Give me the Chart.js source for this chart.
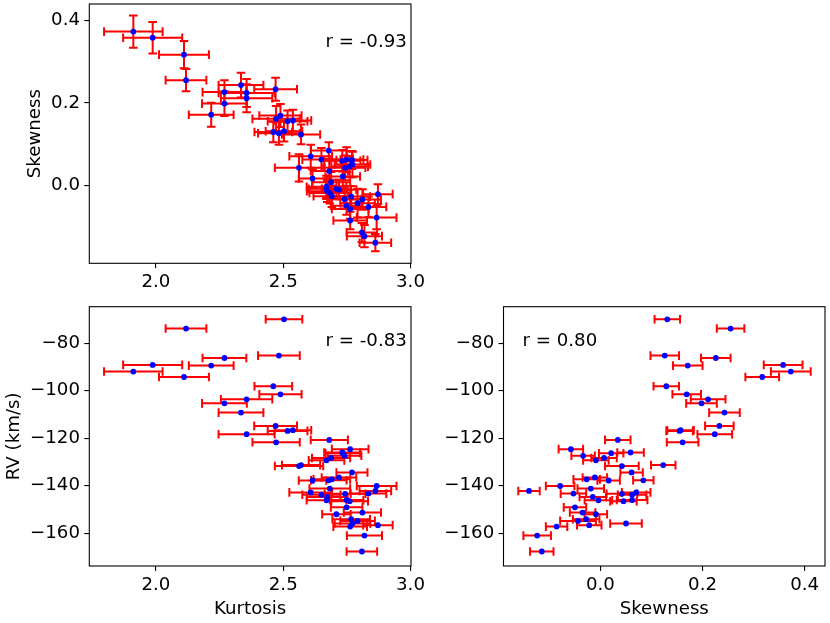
<!DOCTYPE html>
<html>
<head>
<meta charset="utf-8">
<script src="https://cdn.jsdelivr.net/npm/chart.js@4.4.0/dist/chart.umd.min.js"></script>
<style>
  body { margin: 0; background: #fff; }
  #wrap { position: relative; width: 830px; height: 623px; }
  #wrap canvas { position: absolute; left: 0; top: 0; }
</style>
</head>
<body>
<div id="wrap">
  <canvas id="skewKurt" width="830" height="623"></canvas>
  <canvas id="rvKurt" width="830" height="623"></canvas>
  <canvas id="rvSkew" width="830" height="623"></canvas>
</div>
<script>
// one entry per star (same order in every array)
const kurtosis = [2.503, 2.118, 2.483, 2.269, 1.987, 2.217, 1.911, 2.110, 2.461, 2.489,
  2.356, 2.269, 2.334, 2.470, 2.517, 2.538, 2.356, 2.681, 2.472, 2.763,
  2.732, 2.734, 2.741, 2.688, 2.670, 2.570, 2.562, 2.770, 2.719, 2.691,
  2.679, 2.615, 2.867, 2.683, 2.862, 2.608, 2.835, 2.743, 2.650, 2.673,
  2.749, 2.670, 2.761, 2.749, 2.811, 2.709, 2.767, 2.792, 2.772, 2.872,
  2.763, 2.819, 2.809];
const kurtosisErr = [0.072, 0.080, 0.082, 0.086, 0.116, 0.088, 0.115, 0.098, 0.074, 0.083,
  0.101, 0.088, 0.088, 0.084, 0.078, 0.072, 0.110, 0.073, 0.093, 0.072,
  0.071, 0.068, 0.066, 0.075, 0.070, 0.075, 0.095, 0.061, 0.068, 0.072,
  0.070, 0.054, 0.078, 0.080, 0.062, 0.084, 0.070, 0.080, 0.075, 0.080,
  0.066, 0.078, 0.072, 0.062, 0.073, 0.056, 0.074, 0.068, 0.070, 0.058,
  0.066, 0.069, 0.060];
const skewness = [0.131, 0.255, 0.126, 0.226, 0.358, 0.171, 0.373, 0.317, 0.129, 0.169,
  0.211, 0.198, 0.243, 0.233, 0.155, 0.157, 0.224, 0.034, 0.161, -0.058,
  0.059, 0.021, -0.034, 0.007, -0.009, 0.123, 0.042, 0.061, -0.011, -0.027,
  0.084, 0.016, -0.079, -0.019, -0.140, 0.070, -0.053, 0.042, 0.062, -0.015,
  0.062, -0.004, 0.045, -0.050, -0.035, -0.009, -0.028, -0.044, 0.050, -0.022,
  -0.086, -0.124, -0.115];
const skewnessErr = [0.025, 0.027, 0.028, 0.029, 0.038, 0.029, 0.039, 0.033, 0.025, 0.028,
  0.034, 0.030, 0.030, 0.028, 0.026, 0.026, 0.034, 0.025, 0.031, 0.024,
  0.026, 0.024, 0.023, 0.025, 0.025, 0.024, 0.033, 0.022, 0.024, 0.026,
  0.020, 0.022, 0.028, 0.026, 0.021, 0.028, 0.025, 0.030, 0.028, 0.026,
  0.030, 0.027, 0.026, 0.022, 0.025, 0.022, 0.026, 0.035, 0.031, 0.024,
  0.021, 0.027, 0.023];
const rv = [-69.9, -73.8, -85.2, -86.2, -89.1, -89.4, -91.9, -94.2, -98.1, -101.5,
  -103.6, -105.3, -109.2, -114.8, -116.9, -116.6, -118.3, -120.7, -121.7, -124.6,
  -126.0, -126.3, -127.4, -128.3, -129.3, -131.3, -131.7, -134.4, -136.5, -137.3,
  -137.7, -137.8, -140.1, -141.2, -142.2, -142.8, -143.3, -143.4, -143.8, -144.7,
  -146.0, -146.1, -146.5, -149.1, -151.3, -152.0, -154.1, -154.8, -155.9, -156.6,
  -157.2, -161.0, -167.7];

const kurtTicks = [2.0, 2.5, 3.0];
const skewTicks = [0.0, 0.2, 0.4];
const rvTicks = [-160, -140, -120, -100, -80];

const kurtRange = [1.738, 3.002];
const skewRange = [-0.190, 0.440];
const rvRange = [-173.8, -64.6];

const FONT = 'DejaVu Sans';
const FS = 18.2;
const CAP = 4.3;

function fmt(dec) {
  return v => {
    const s = Math.abs(v).toFixed(dec);
    return v < 0 ? '\u2212' + s : s;
  };
}

// red error bars with caps, drawn under the markers
const errorBars = {
  id: 'errorBars',
  beforeDatasetsDraw(chart) {
    const { ctx, chartArea: a, scales: { x, y } } = chart;
    const ds = chart.data.datasets[0];
    ctx.save();
    ctx.beginPath();
    ctx.rect(a.left, a.top, a.right - a.left, a.bottom - a.top);
    ctx.clip();
    ctx.strokeStyle = '#ff0000';
    ctx.lineWidth = 2;
    ds.data.forEach((p, i) => {
      const px = x.getPixelForValue(p.x);
      const py = y.getPixelForValue(p.y);
      ctx.beginPath();
      if (ds.xErr) {
        const l = x.getPixelForValue(p.x - ds.xErr[i]);
        const r = x.getPixelForValue(p.x + ds.xErr[i]);
        ctx.moveTo(l, py); ctx.lineTo(r, py);
        ctx.moveTo(l, py - CAP); ctx.lineTo(l, py + CAP);
        ctx.moveTo(r, py - CAP); ctx.lineTo(r, py + CAP);
      }
      if (ds.yErr) {
        const t = y.getPixelForValue(p.y + ds.yErr[i]);
        const b = y.getPixelForValue(p.y - ds.yErr[i]);
        ctx.moveTo(px, t); ctx.lineTo(px, b);
        ctx.moveTo(px - CAP, t); ctx.lineTo(px + CAP, t);
        ctx.moveTo(px - CAP, b); ctx.lineTo(px + CAP, b);
      }
      ctx.stroke();
    });
    ctx.restore();
  }
};

// axes box + correlation text
const frame = {
  id: 'frame',
  afterDatasetsDraw(chart, args, opts) {
    const { ctx, chartArea: a } = chart;
    ctx.save();
    ctx.strokeStyle = '#000';
    ctx.lineWidth = 1.1;
    ctx.strokeRect(a.left, a.top, a.right - a.left, a.bottom - a.top);
    ctx.font = FS + 'px "' + FONT + '"';
    ctx.fillStyle = '#000';
    ctx.textBaseline = 'middle';
    ctx.textAlign = opts.align;
    ctx.fillText(opts.text, a.left + opts.fx * (a.right - a.left), a.bottom - opts.fy * (a.bottom - a.top));
    ctx.restore();
  }
};

function axis(range, ticks, dec, fitSize, horizontal, title, titlePad) {
  return {
    type: 'linear',
    min: range[0],
    max: range[1],
    afterBuildTicks: s => { s.ticks = ticks.map(v => ({ value: v })); },
    afterFit: s => {
      if (horizontal) s.height = fitSize; else s.width = fitSize;
      s.paddingLeft = s.paddingRight = s.paddingTop = s.paddingBottom = 0;
    },
    ticks: {
      font: { family: FONT, size: FS },
      color: '#000',
      padding: horizontal ? 3 : 4.3,
      autoSkip: false,
      maxRotation: 0,
      callback: fmt(dec)
    },
    grid: { drawOnChartArea: false, drawTicks: true, tickLength: 5, color: '#000', lineWidth: 1.1 },
    border: { display: false },
    title: {
      display: !!title,
      text: title || '',
      color: '#000',
      font: { family: FONT, size: FS },
      padding: horizontal ? { top: 0, bottom: titlePad } : { top: titlePad, bottom: 0 }
    }
  };
}

function panel(id, cfg) {
  const pts = cfg.xs.map((v, i) => ({ x: v, y: cfg.ys[i] }));
  return new Chart(document.getElementById(id), {
    type: 'scatter',
    data: {
      datasets: [{
        data: pts,
        xErr: cfg.xErr,
        yErr: cfg.yErr,
        pointRadius: 2.9,
        pointHoverRadius: 2.9,
        pointBackgroundColor: '#0000ff',
        pointBorderWidth: 0
      }]
    },
    options: {
      responsive: false,
      animation: false,
      layout: { padding: cfg.pad },
      plugins: {
        legend: { display: false },
        tooltip: { enabled: false },
        frame: cfg.label
      },
      scales: {
        x: axis(cfg.xRange, cfg.xTicks, cfg.xDec, cfg.xh, true, cfg.xTitle, 0),
        y: axis(cfg.yRange, cfg.yTicks, cfg.yDec, cfg.yw, false, cfg.yTitle, cfg.yTitlePad)
      }
    },
    plugins: [errorBars, frame]
  });
}

panel('skewKurt', {
  xs: kurtosis, ys: skewness, xErr: kurtosisErr, yErr: skewnessErr,
  xRange: kurtRange, yRange: skewRange, xTicks: kurtTicks, yTicks: skewTicks, xDec: 1, yDec: 1,
  pad: { left: 0, top: 4, right: 419, bottom: 319.7 }, yw: 89.3, xh: 40,
  xTitle: null, yTitle: 'Skewness', yTitlePad: 24,
  label: { text: 'r = -0.93', align: 'right', fx: 0.987, fy: 0.853 }
});

panel('rvKurt', {
  xs: kurtosis, ys: rv, xErr: kurtosisErr, yErr: null,
  xRange: kurtRange, yRange: rvRange, xTicks: kurtTicks, yTicks: rvTicks, xDec: 1, yDec: 0,
  pad: { left: 0, top: 306.7, right: 419, bottom: 3 }, yw: 89.3, xh: 54,
  xTitle: 'Kurtosis', yTitle: 'RV (km/s)', yTitlePad: 3,
  label: { text: 'r = -0.83', align: 'right', fx: 0.987, fy: 0.865 }
});

panel('rvSkew', {
  xs: skewness, ys: rv, xErr: skewnessErr, yErr: null,
  xRange: skewRange, yRange: rvRange, xTicks: skewTicks, yTicks: rvTicks, xDec: 1, yDec: 0,
  pad: { left: 443.5, top: 306.7, right: 5, bottom: 3 }, yw: 60, xh: 54,
  xTitle: 'Skewness', yTitle: null, yTitlePad: 0,
  label: { text: 'r = 0.80', align: 'left', fx: 0.059, fy: 0.865 }
});
</script>
</body>
</html>
